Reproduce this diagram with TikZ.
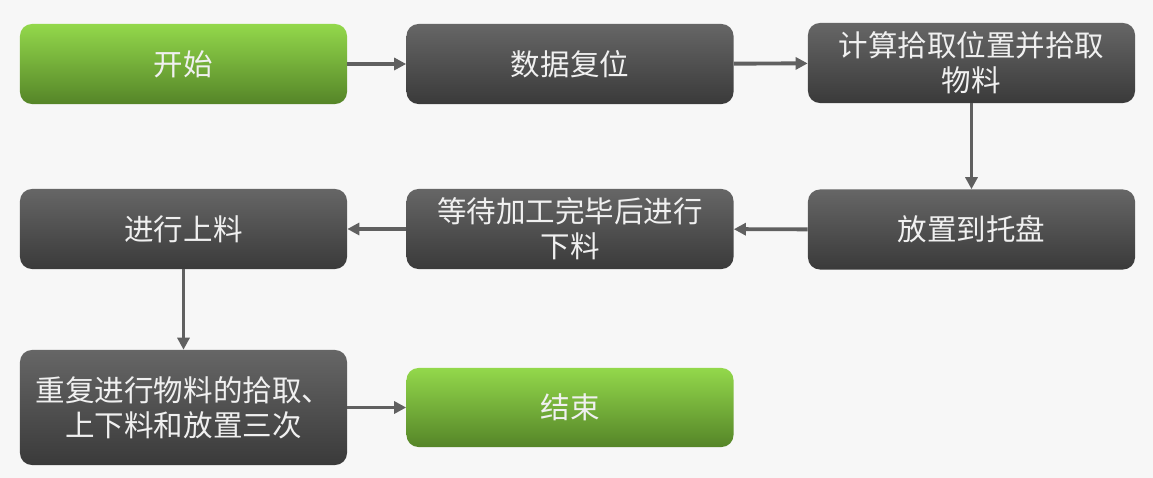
\documentclass[tikz,border=0pt]{standalone}
\usepackage{fontspec}
\newfontfamily\cjk{Noto Sans CJK SC}
\usetikzlibrary{arrows.meta}
\definecolor{bggray}{HTML}{F7F7F7}
\definecolor{grntop}{HTML}{93D84B}
\definecolor{grnbot}{HTML}{558528}
\definecolor{blktop}{HTML}{666666}
\definecolor{blkbot}{HTML}{3A3A3A}
\definecolor{arrgray}{HTML}{606060}

\begin{document}
\begin{tikzpicture}[x=0.025cm, y=-0.025cm,
  main/.style = {rounded corners=0.3cm, minimum width=8.175cm, minimum height=2cm, text width=7.9cm, inner sep=2pt, align=center, text=white!94!black, font=\cjk\fontsize{21}{25}\selectfont},
  grn/.style = {main, top color=grntop, bottom color=grnbot},
  blk/.style = {main, top color=blktop, bottom color=blkbot},
  arr/.style = {draw=arrgray, line width=2.8pt, -{Triangle[length=3mm, width=3mm]}}]
  \fill[bggray] (0,0) rectangle (1153,478);
  \useasboundingbox (0,0) rectangle (1153,478);

  \node[grn] at (183.5,64) (1) {开始};
  \node[blk] at (570,64) (2) {数据复位};
  \node[blk] at (971.5,63) (3) {计算拾取位置并拾取\\物料};
  \node[blk] at (971.5,229.5) (4) {放置到托盘};
  \node[blk] at (570,229) (5) {等待加工完毕后进行\\下料};
  \node[blk] at (183.5,229) (6) {进行上料};
  \node[blk, minimum height=2.875cm] at (183.5,407.5) (7) {重复进行物料的拾取、\\上下料和放置三次};
  \node[grn, minimum height=1.975cm] at (570,407.5) (8) {结束};

  \draw[arr] (1) -- (2);
  \draw[arr] (2) -- (3);
  \draw[arr] (3) -- (4);
  \draw[arr] (4) -- (5);
  \draw[arr] (5) -- (6);
  \draw[arr] (6) -- (7);
  \draw[arr] (7) -- (8);
\end{tikzpicture}
\end{document}
